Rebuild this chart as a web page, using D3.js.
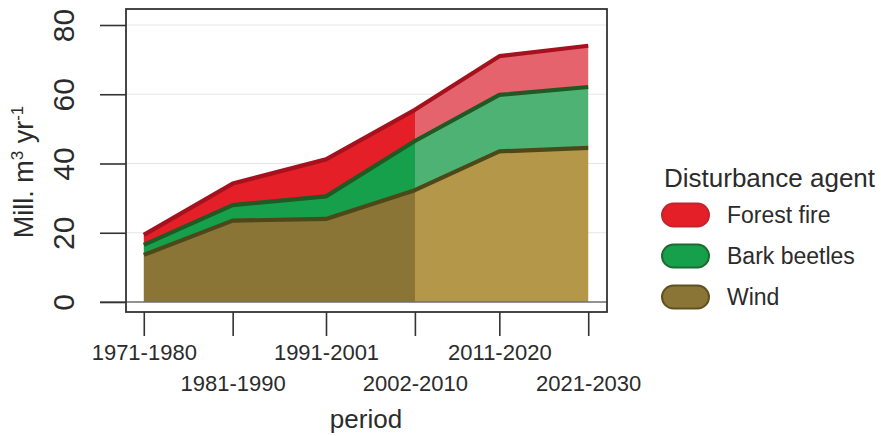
<!DOCTYPE html>
<html>
<head>
<meta charset="utf-8">
<script src="https://cdn.jsdelivr.net/npm/d3@7"></script>
<style>
  html, body { margin: 0; padding: 0; background: #fff; }
  svg { display: block; font-family: "Liberation Sans", Arial, sans-serif; }
  text { fill: #2b2b2b; }
</style>
</head>
<body>
<svg id="chart" width="881" height="436"></svg>
<script>
// Harvest-relevant damage by disturbance agent, per decade (Mill. m³ per year)
const periods = ["1971-1980", "1981-1990", "1991-2001", "2002-2010", "2011-2020", "2021-2030"];
const wind = [13.6, 23.5, 24.0, 32.3, 43.5, 44.5];
const barkBeetles = [2.9, 4.5, 6.5, 14.2, 16.3, 17.6];
const forestFire = [2.9, 6.2, 10.7, 9.0, 11.2, 11.9];
const yTicks = [0, 20, 40, 60, 80];

// observed periods end with 2002-2010; later periods are projections
const projectionStart = 2006;

const agents = [
  { key: "wind", label: "Wind", past: "#8b7536", future: "#b5974a", line: "#4d4819", key_fill: "#8b7536", key_stroke: "#5e5220" },
  { key: "beetles", label: "Bark beetles", past: "#17a04c", future: "#4eb274", line: "#1f5a24", key_fill: "#17a04c", key_stroke: "#1f6a30" },
  { key: "fire", label: "Forest fire", past: "#e41f27", future: "#e5636d", line: "#a5121e", key_fill: "#e41f27", key_stroke: "#c0262c" }
];

// period midpoints place each decade on a continuous time axis
const mids = periods.map(p => { const [a, b] = p.split("-").map(Number); return (a + b) / 2; });
const rows = periods.map((p, i) => ({ t: mids[i], wind: wind[i], beetles: barkBeetles[i], fire: forestFire[i] }));
const stacked = d3.stack().keys(agents.map(a => a.key))(rows);

const box = { left: 126, top: 9, right: 607, bottom: 312 };
const x = d3.scaleLinear().domain([1973.5, 2027.5]).range([box.left, 606]);
const y = d3.scaleLinear().domain([0, 80]).range([302, 25]);

const svg = d3.select("#chart");
const defs = svg.append("defs");
defs.append("clipPath").attr("id", "clip-past").append("rect")
  .attr("x", box.left).attr("y", box.top)
  .attr("width", x(projectionStart) - box.left).attr("height", box.bottom - box.top);
defs.append("clipPath").attr("id", "clip-future").append("rect")
  .attr("x", x(projectionStart)).attr("y", box.top)
  .attr("width", box.right - x(projectionStart)).attr("height", box.bottom - box.top);

// light horizontal guides
svg.append("g").selectAll("line").data(yTicks.filter(v => v > 0)).join("line")
  .attr("x1", box.left).attr("x2", box.right)
  .attr("y1", d => y(d)).attr("y2", d => y(d))
  .attr("stroke", "#e6e6e6").attr("stroke-width", 1);

const area = d3.area().x(d => x(d.data.t)).y0(d => y(d[0])).y1(d => y(d[1]));
const topLine = d3.line().x(d => x(d.data.t)).y(d => y(d[1]));

["past", "future"].forEach(part => {
  svg.append("g").attr("clip-path", `url(#clip-${part})`)
    .selectAll("path").data(stacked).join("path")
    .attr("d", area)
    .attr("fill", (d, i) => agents[i][part]);
});

// zero reference line
svg.append("line")
  .attr("x1", 100).attr("x2", box.right)
  .attr("y1", y(0)).attr("y2", y(0))
  .attr("stroke", "#6e6e6e").attr("stroke-width", 1.6);

svg.append("g").selectAll("path").data(stacked).join("path")
  .attr("d", topLine)
  .attr("fill", "none")
  .attr("stroke", (d, i) => agents[i].line)
  .attr("stroke-width", 4.2)
  .attr("stroke-linejoin", "round");

// plot frame
svg.append("rect")
  .attr("x", box.left).attr("y", box.top)
  .attr("width", box.right - box.left).attr("height", box.bottom - box.top)
  .attr("fill", "none").attr("stroke", "#333").attr("stroke-width", 1.8);

// y axis
const yAxis = svg.append("g").attr("transform", `translate(${box.left},0)`)
  .call(d3.axisLeft(y).tickValues(yTicks).tickSize(26).tickSizeOuter(0));
yAxis.select(".domain").remove();
yAxis.selectAll(".tick line").attr("stroke", "#333").attr("stroke-width", 1.6);
yAxis.selectAll(".tick text")
  .attr("x", null).attr("dy", null)
  .attr("text-anchor", "middle")
  .attr("transform", "translate(-52,0) rotate(-90)")
  .style("font-size", "30px").style("fill", "#2b2b2b");

// x axis with staggered period labels
const xAxis = svg.append("g").attr("transform", `translate(0,${box.bottom})`)
  .call(d3.axisBottom(x).tickValues(mids).tickSize(24).tickSizeOuter(0)
    .tickFormat((d, i) => periods[i]));
xAxis.select(".domain").remove();
xAxis.selectAll(".tick line").attr("stroke", "#333").attr("stroke-width", 1.6);
xAxis.selectAll(".tick text")
  .attr("y", (d, i) => i % 2 === 0 ? 48 : 79)
  .attr("dy", null)
  .style("font-size", "22px").style("fill", "#2b2b2b");

// axis titles
svg.append("text")
  .attr("transform", `translate(33,${172}) rotate(-90)`)
  .attr("text-anchor", "middle")
  .style("font-size", "27px")
  .call(t => {
    t.append("tspan").text("Mill. m");
    t.append("tspan").text("3").attr("dy", -10).style("font-size", "17px");
    t.append("tspan").text(" yr").attr("dy", 10);
    t.append("tspan").text("-1").attr("dy", -10).style("font-size", "17px");
  });

svg.append("text")
  .attr("x", x(2000.5)).attr("y", 428)
  .attr("text-anchor", "middle")
  .style("font-size", "26px")
  .text("period");

// legend
const legend = svg.append("g");
legend.append("text")
  .attr("x", 664).attr("y", 187)
  .style("font-size", "26px")
  .text("Disturbance agent");
const legendOrder = agents.slice().reverse();
const items = legend.selectAll("g.item").data(legendOrder).join("g")
  .attr("class", "item")
  .attr("transform", (d, i) => `translate(0,${215 + i * 41})`);
items.append("rect")
  .attr("x", 662).attr("y", -11.5).attr("width", 47).attr("height", 23).attr("rx", 11.5)
  .attr("fill", d => d.key_fill).attr("stroke", d => d.key_stroke).attr("stroke-width", 2);
items.append("text")
  .attr("x", 727).attr("y", 8)
  .style("font-size", "23px")
  .text(d => d.label);
</script>
</body>
</html>
